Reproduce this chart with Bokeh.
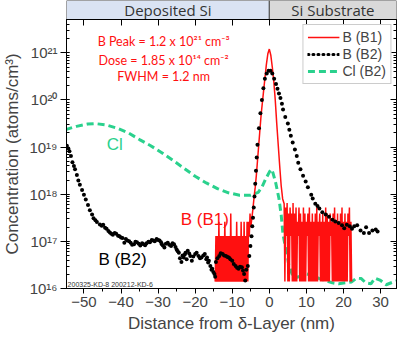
import numpy as np
from bokeh.plotting import figure
from bokeh.models import (Range1d, LinearAxis, LogAxis, FixedTicker, LogTicker,
                          CustomJSTickFormatter, Label, Legend, LegendItem)
from bokeh.layouts import column
from bokeh.core.properties import value
from bokeh.embed import file_html
from bokeh.resources import INLINE

# ---------------- data ----------------
x_min, x_max = -54.7, 34.3
y_min, y_max = 1e16, 5.1e21

header_labels = ["Deposited Si", "Si Substrate"]
header_left = [x_min, 0.0]
header_right = [0.0, x_max]
header_colors = ["#dae3f3", "#d9d9d9"]

# B (B1): noisy left part (units of 1e16 cm^-3), peak part (log10), noisy right part
b1_noise_left = [1.4, 13, 1.4, 13, 1.4, 26, 1.4, 13, 1.4, 13,
                 1.4, 13, 1.4, 26, 1.4, 13, 1.4, 13, 1.4, 13,
                 1.4, 39, 1.4, 13, 1.4, 13, 1.4, 13, 1.4, 26,
                 1.4, 13, 1.4, 13, 1.4, 26, 1.4, 13, 1.4, 26,
                 1.4, 13, 1.4, 26, 1.4, 26, 13, 39]
b1_peak_x = [-5.0, -4.7, -4.4, -4.1, -3.8, -3.5, -3.2, -2.9, -2.6, -2.3, -2.0, -1.6, -1.2,
             -0.8, -0.4, 0.0, 0.4, 0.8, 1.2, 1.6, 2.0, 2.4, 2.8, 3.2, 3.6, 4.0]
b1_peak_log10 = [17.3, 17.5, 17.7, 17.95, 18.15, 18.4, 18.7, 19.0, 19.3, 19.6, 19.85, 20.15, 20.45,
                 20.75, 20.98, 21.08, 20.95, 20.7, 20.4, 20.0, 19.5, 19.05, 18.6, 18.18, 17.9, 17.8]
b1_noise_right = [1.4, 52, 13, 65, 1.4, 39, 1.4, 52, 13, 39, 1.4, 65, 1.4, 39, 1.4, 52, 1.4, 26, 13, 52,
                  1.4, 39, 1.4, 26, 1.4, 52, 1.4, 39, 1.4, 26, 13, 39, 1.4, 52, 1.4, 26, 1.4, 39, 1.4, 26,
                  1.4, 39, 1.4, 52, 1.4, 26, 13, 39, 1.4, 26, 1.4, 39, 1.4, 26, 1.4, 52, 1.4, 39, 1.4, 26,
                  1.4, 39, 13, 26, 1.4, 39, 1.4, 52, 1.4, 26, 1.4, 39, 1.4, 26, 1.4, 39, 1.4, 52, 1.4, 26,
                  1.4, 39, 1.4, 26, 1.4, 39, 13, 52, 1.4, 26, 1.4]

# B (B2): dots
b2_x = [-54.6, -54.2, -53.9, -53.5, -53.1, -52.7, -52.4, -51.9, -51.5, -51.1, -50.5, -50.0, -49.5,
        -48.9, -48.4, -47.8, -47.4, -46.9, -46.5, -45.7, -45.2, -44.8, -44.3, -43.9, -43.4, -43.0,
        -42.6, -42.2, -41.7, -41.3, -40.8, -40.4, -40.0, -39.6, -39.1, -38.7, -38.3, -37.8, -37.4,
        -37.0, -36.5, -36.1, -35.7, -35.2, -34.8, -34.3, -33.9, -33.5, -33.1, -32.6, -32.2, -31.7,
        -31.3, -30.9, -30.4, -30.0, -29.6, -29.2, -29.0, -28.7, -28.3, -27.9, -27.4, -27.0, -26.5,
        -26.1, -25.7, -25.3, -25.0, -24.7, -24.4, -24.1, -23.7, -23.4, -23.1, -22.8, -22.6, -22.3,
        -22.0, -21.6, -21.3, -20.9, -20.5, -20.0, -19.6, -19.1, -18.7, -18.3, -17.8, -17.4, -17.0,
        -16.8, -16.5, -16.3, -15.9, -15.6, -15.4, -15.1, -14.8, -14.6, -14.4, -14.0, -13.5, -13.1,
        -12.6, -12.2, -11.7, -11.3, -10.9, -10.5, -10.0, -9.6, -9.1, -8.7, -8.3, -7.9, -7.4, -7.1,
        -6.8, -6.5, -6.2, -5.8, -5.4, -5.1, -4.8, -4.6, -4.4, -4.2, -4.0, -3.8, -3.6, -3.4, -3.2,
        -2.8, -2.4, -2.0, -1.6, -1.2, -0.7, -0.2, 0.3, 0.8, 1.3, 1.8, 2.2, 2.6, 3.0, 3.4, 3.7, 4.3,
        5.0, 5.4, 5.8, 6.3, 6.9, 7.4, 7.8, 8.4, 9.1, 9.8, 10.4, 11.3, 11.7, 12.4, 13.0, 13.5, 14.3,
        15.2, 16.1, 17.0, 17.8, 18.7, 19.6, 20.2, 20.9, 21.7, 22.3, 22.9, 23.7, 24.6, 25.5, 26.1,
        26.9, 27.8, 28.7, 29.2]
b2_log10 = [19.03, 18.97, 18.91, 18.81, 18.68, 18.60, 18.53, 18.41, 18.29, 18.20, 18.09, 17.99, 17.89,
            17.77, 17.66, 17.57, 17.49, 17.45, 17.41, 17.36, 17.33, 17.35, 17.29, 17.27, 17.22, 17.19,
            17.16, 17.14, 17.18, 17.16, 17.12, 17.11, 17.08, 17.07, 16.97, 17.05, 17.02, 17.00, 16.97,
            16.93, 16.94, 16.99, 16.98, 16.95, 16.91, 16.96, 16.94, 16.92, 16.96, 16.99, 16.98, 17.03,
            17.02, 17.00, 17.05, 17.03, 17.02, 16.98, 16.94, 16.91, 16.87, 16.95, 16.97, 16.93, 16.90,
            16.96, 16.94, 16.88, 16.83, 16.79, 16.76, 16.64, 16.56, 16.70, 16.66, 16.72, 16.76, 16.62,
            16.80, 16.74, 16.69, 16.59, 16.68, 16.73, 16.76, 16.69, 16.64, 16.66, 16.70, 16.73, 16.62,
            16.66, 16.55, 16.59, 16.48, 16.40, 16.42, 16.35, 16.31, 16.25, 16.56, 16.64, 16.69, 16.75,
            16.73, 16.70, 16.69, 16.67, 16.66, 16.62, 16.59, 16.52, 16.48, 16.44, 16.42, 16.46, 16.45, 16.38,
            16.31, 16.17, 16.40, 16.48, 16.69, 16.90, 17.11, 17.32, 17.50, 17.72, 17.95, 18.22, 18.50, 18.78, 19.05,
            19.40, 19.72, 20.00, 20.25, 20.45, 20.56, 20.62, 20.62, 20.56, 20.45, 20.34, 20.24, 20.14, 20.04, 19.92, 19.80, 19.64,
            19.50, 19.37, 19.24, 19.10, 18.95, 18.81, 18.67, 18.53, 18.39, 18.27, 18.15, 17.99, 17.91, 17.80, 17.75, 17.70, 17.62,
            17.57, 17.52, 17.46, 17.42, 17.39, 17.34, 17.28, 17.35, 17.32, 17.27, 17.32, 17.34, 17.23, 17.18, 17.30,
            17.18, 17.23, 17.25, 17.21]

# Cl (B2): dashed
cl_x = [-55.0, -52.0, -49.0, -47.0, -44.0, -41.0, -38.0, -35.0, -32.0, -29.0, -26.0, -23.0, -20.0,
        -17.0, -14.0, -11.0, -8.0, -5.0, -3.0, -2.0, -1.0, 0.0, 0.5, 1.0, 1.7, 2.6, 3.2, 3.7, 4.3,
        4.8, 5.2, 6.1, 7.4, 8.5, 10.0, 11.5, 13.5, 15.0, 17.0, 18.7, 20.5, 22.2, 23.5, 24.8, 26.0,
        27.4, 28.5, 30.0, 31.5, 33.5, 35.0]
cl_log10 = [19.37, 19.44, 19.49, 19.50, 19.47, 19.40, 19.30, 19.16, 19.03, 18.88, 18.72, 18.55, 18.38,
            18.24, 18.12, 18.03, 17.98, 17.98, 18.04, 18.15, 18.32, 18.47, 18.53, 18.45, 18.25, 17.91,
            17.56, 17.14, 16.90, 16.72, 16.52, 16.31, 16.24, 16.26, 16.31, 16.28, 16.21, 16.17, 16.12,
            16.10, 16.12, 16.14, 16.22, 16.21, 16.12, 16.10, 16.22, 16.17, 16.08, 16.14, 16.18]

x_ticks = [-50, -40, -30, -20, -10, 0, 10, 20, 30]
x_minor_ticks = [-55, -45, -35, -25, -15, -5, 5, 15, 25, 35]

RED = "#ff1010"
GREEN = "#2ad18d"
FONT = "Liberation Sans"

# ---------------- series ----------------
b1_x = np.concatenate([np.round(np.arange(-14.6, -5.15, 0.2), 1),
                       np.array(b1_peak_x),
                       np.round(np.arange(4.2, 22.25, 0.2), 1)])
b1_y = np.concatenate([np.array(b1_noise_left) * 1e16,
                       10 ** np.array(b1_peak_log10),
                       np.array(b1_noise_right) * 1e16])
b2_y = 10 ** np.array(b2_log10)
cl_y = 10 ** np.array(cl_log10)

xr = Range1d(x_min, x_max)
W = 400
LB, RB = 64, 4

# ---------------- header ----------------
h = figure(width=W, height=19, x_range=xr, y_range=Range1d(0, 1),
           x_axis_type=None, y_axis_type=None, toolbar_location=None,
           output_backend="svg", min_border_left=LB, min_border_right=RB,
           min_border_top=0, min_border_bottom=0, outline_line_color=None)
h.grid.visible = False
h.quad(left=header_left, right=header_right, bottom=0, top=1,
       fill_color=header_colors, line_color="#4d4d4d", line_width=1)
h.text(x=[(a + b) / 2 for a, b in zip(header_left, header_right)], y=[0.5, 0.5],
       text=header_labels, text_align="center", text_baseline="middle",
       text_font=value("Open Sans"), text_font_size="15px", text_color="#333333")

# ---------------- main ----------------
p = figure(width=W, height=316, x_range=xr, y_range=Range1d(y_min, y_max),
           y_axis_type="log", toolbar_location=None, output_backend="svg",
           min_border_left=LB, min_border_right=RB, min_border_top=0, min_border_bottom=0,
           outline_line_color="black")
p.grid.visible = False

sup = CustomJSTickFormatter(code="""
const s = {'0':'\u2070','1':'\u00b9','2':'\u00b2','3':'\u00b3','4':'\u2074','5':'\u2075',
           '6':'\u2076','7':'\u2077','8':'\u2078','9':'\u2079','-':'\u207b'};
const e = Math.round(Math.log10(tick));
return '10' + String(e).split('').map(c => s[c]).join('');
""")
empty = CustomJSTickFormatter(code="return '';")

yax = p.yaxis[0]
yax.ticker = LogTicker(desired_num_ticks=6, num_minor_ticks=10)
yax.formatter = sup
yax.axis_label = "Concentration (atoms/cm\u00b3)"
yax.axis_label_text_font = FONT
yax.axis_label_text_font_size = "17px"
yax.axis_label_text_font_style = "normal"
yax.axis_label_standoff = 4
yax.major_label_text_font = FONT
yax.major_label_text_font_size = "15px"
yax.major_tick_out = 6
yax.major_tick_in = 0
yax.minor_tick_in = 3
yax.minor_tick_out = 0
yax.major_label_standoff = 3

xax = p.xaxis[0]
xax.ticker = FixedTicker(ticks=x_ticks, minor_ticks=x_minor_ticks)
xax.axis_label = "Distance from \u03b4-Layer (nm)"
xax.axis_label_text_font = FONT
xax.axis_label_text_font_size = "17px"
xax.axis_label_text_font_style = "normal"
xax.axis_label_standoff = 4
xax.major_label_text_font = FONT
xax.major_label_text_font_size = "15px"
xax.major_tick_out = 5
xax.major_tick_in = 0
xax.minor_tick_out = 3
xax.minor_tick_in = 0
xax.major_label_standoff = 3

top = LinearAxis(ticker=FixedTicker(ticks=x_ticks), formatter=empty,
                 major_tick_in=6, major_tick_out=0, minor_tick_in=0, minor_tick_out=0,
                 major_label_text_font_size="0px", major_label_standoff=0)
p.add_layout(top, "above")
right = LogAxis(ticker=LogTicker(desired_num_ticks=6, num_minor_ticks=10), formatter=empty,
                major_tick_in=6, major_tick_out=0, minor_tick_in=3, minor_tick_out=0,
                major_label_text_font_size="0px", major_label_standoff=0)
p.add_layout(right, "right")

r_cl = p.line(cl_x, cl_y, line_color=GREEN, line_width=3, line_dash="7 4")
r_b1 = p.line(b1_x, b1_y, line_color=RED, line_width=1.5)
p.scatter(b2_x, b2_y, marker="circle", size=4, fill_color="black", line_color=None)
r_b2_leg = p.line([np.nan], [np.nan], line_color="black", line_width=3,
                  line_dash="1 4", line_cap="round")

legend = Legend(items=[LegendItem(label="B (B1)", renderers=[r_b1]),
                       LegendItem(label="B (B2)", renderers=[r_b2_leg]),
                       LegendItem(label="Cl (B2)", renderers=[r_cl])],
                location="top_right", label_text_font=FONT, label_text_font_size="14px",
                glyph_width=32, glyph_height=16, label_height=16, spacing=1, padding=4,
                margin=5, border_line_color="#999999", label_standoff=3)
p.add_layout(legend)

ann = [("B Peak = 1.2 x 10\u00b2\u00b9 cm\u207b\u00b3", 10 ** 21.24),
       ("Dose = 1.85 x 10\u00b9\u2074 cm\u207b\u00b2", 10 ** 20.84),
       ("FWHM = 1.2 nm", 10 ** 20.50)]
for t, yv in ann:
    p.add_layout(Label(x=-28.5, y=yv, text=t, text_align="center", text_baseline="middle",
                       text_font="Lato", text_font_size="12.5px", text_color=RED))

p.add_layout(Label(x=-41.7, y=10 ** 19.06, text="Cl", text_align="center", text_baseline="middle",
                   text_font=FONT, text_font_size="17px", text_color=GREEN))
p.add_layout(Label(x=-17.4, y=10 ** 17.46, text="B (B1)", text_align="center", text_baseline="middle",
                   text_font=FONT, text_font_size="17px", text_color=RED))
p.add_layout(Label(x=-39.6, y=10 ** 16.62, text="B (B2)", text_align="center", text_baseline="middle",
                   text_font=FONT, text_font_size="17px", text_color="black"))
p.add_layout(Label(x=-54.4, y=10 ** 16.08, text="200325-KD-8    200212-KD-6", text_align="left",
                   text_baseline="middle", text_font=FONT, text_font_size="7px", text_color="#333333"))

layout = column(h, p, spacing=0)
open("out.html", "w").write(file_html(layout, INLINE))
